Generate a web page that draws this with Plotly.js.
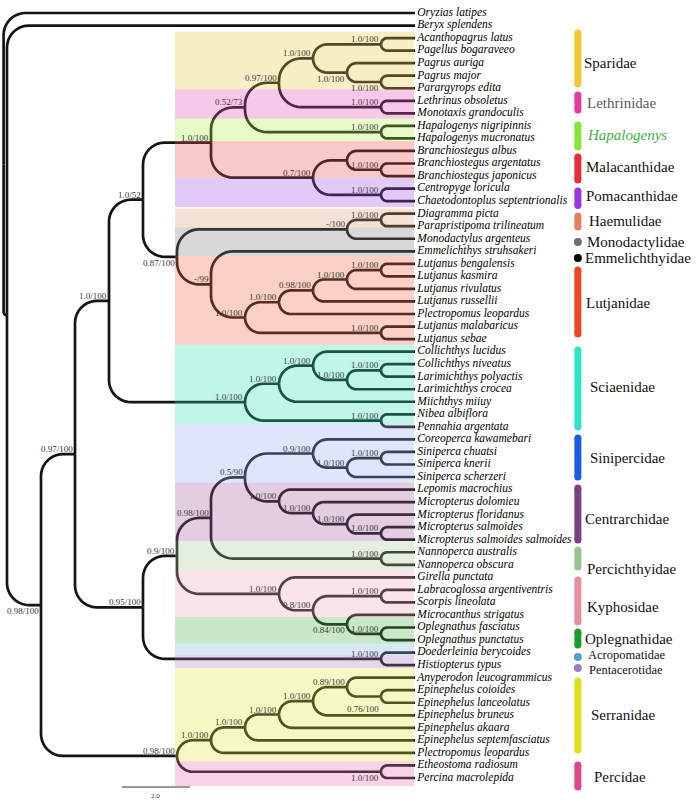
<!DOCTYPE html>
<html><head><meta charset="utf-8">
<script src="https://cdn.plot.ly/plotly-3.0.1.min.js"></script>
<style>html,body{margin:0;padding:0;background:#fff}</style>
</head><body><div id="chart" style="width:698px;height:804px"></div>
<script>
// ---------------- DATA ----------------
const tips = [
  "Oryzias latipes","Beryx splendens","Acanthopagrus latus","Pagellus bogaraveeo","Pagrus auriga",
  "Pagrus major","Parargyrops edita","Lethrinus obsoletus","Monotaxis grandoculis","Hapalogenys nigripinnis",
  "Hapalogenys mucronatus","Branchiostegus albus","Branchiostegus argentatus","Branchiostegus japonicus","Centropyge loricula",
  "Chaetodontoplus septentrionalis","Diagramma picta","Parapristipoma trilineatum","Monodactylus argenteus","Emmelichthys struhsakeri",
  "Lutjanus bengalensis","Lutjanus kasmira","Lutjanus rivulatus","Lutjanus russellii","Plectropomus leopardus",
  "Lutjanus malabaricus","Lutjanus sebae","Collichthys lucidus","Collichthys niveatus","Larimichthys polyactis",
  "Larimichthys crocea","Miichthys miiuy","Nibea albiflora","Pennahia argentata","Coreoperca kawamebari",
  "Siniperca chuatsi","Siniperca knerii","Siniperca scherzeri","Lepomis macrochius","Micropterus dolomieu",
  "Micropterus floridanus","Micropterus salmoides","Micropterus salmoides salmoides","Nannoperca australis","Nannoperca obscura",
  "Girella punctata","Labracoglossa argentiventris","Scorpis lineolata","Microcanthus strigatus","Oplegnathus fasciatus",
  "Oplegnathus punctatus","Doederleinia berycoides","Histiopterus typus","Anyperodon leucogrammicus","Epinephelus coioides",
  "Epinephelus lanceolatus","Epinephelus bruneus","Epinephelus akaara","Epinephelus septemfasciatus","Plectropomus leopardus",
  "Etheostoma radiosum","Percina macrolepida"
];
// clades in Newick form (tips referenced by their number in `tips`; labels = BI posterior / ML bootstrap)
const sparidae   = "((3,4)1.0/100,(5,(6,7)1.0/100)1.0/100)1.0/100";
const cladeUpper = "(((" + sparidae + ",(8,9)1.0/100)0.97/100,(10,11)1.0/100)0.52/73,((12,(13,14)1.0/100),(15,16)1.0/100)0.7/100)1.0/100";
const cladeLutj  = "(((17,18)1.0/100,19)-/100,(20,(((((21,22)1.0/100,23)1.0/100,24)0.98/100,25)1.0/100,(26,27)1.0/100)1.0/100)-/99)0.87/100";
const sciaenidae = "(((28,((29,30)1.0/100,31)1.0/100)1.0/100,32)1.0/100,(33,34)1.0/100)1.0/100";
const cladeLower = "((((35,((36,37)1.0/100,38)1.0/100)0.9/100,(39,(40,(41,(42,43)1.0/100)1.0/100)1.0/100)1.0/100)0.5/90,(44,45)1.0/100)0.98/100," +
                   "(46,((47,48)1.0/100,(49,(50,51)1.0/100)0.84/100)0.8/100)1.0/100)0.9/100";
const serranidae = "(((((54,(55,56)0.76/100)0.89/100,57)1.0/100,58)1.0/100,59)1.0/100,60)1.0/100";
const n108 = "((" + cladeUpper + "," + cladeLutj + ")1.0/52," + sciaenidae + ")1.0/100";
const n095 = "(" + cladeLower + ",(52,53)1.0/100)0.95/100";
const n73  = "(" + n108 + "," + n095 + ")0.97/100";
const nSP  = "(" + serranidae + ",(61,62)1.0/100)0.98/100";
const newick = "(1,(2,(" + n73 + "," + nSP + ")0.98/100))";
const tipDepth = 12;        // cladogram levels
const rootDepth = -0.1;
const scaleBarLength = 2.0;

const families   = ["Sparidae","Lethrinidae","Hapalogenys","Malacanthidae","Pomacanthidae","Haemulidae","Monodactylidae","Emmelichthyidae","Lutjanidae","Sciaenidae","Sinipercidae","Centrarchidae","Percichthyidae","Kyphosidae","Oplegnathidae","Acropomatidae","Pentacerotidae","Serranidae","Percidae"];
const famBarStart = [2.6,7.54,9.93,12.48,15.19,17.19,19.26,20.54,21.49,27.87,34.89,38.88,43.82,46.22,50.36,52.36,53.23,54.27,60.97];
const famBarEnd   = [6.66,8.74,11.69,14.32,16.34,18.07,19.26,20.54,26.6,34.01,38.0,43.03,45.18,49.57,51.4,52.36,53.23,59.77,62.72];
const famLabelY   = [4.99,8.18,10.73,13.28,15.59,17.59,19.26,20.54,24.13,30.82,36.49,41.35,45.34,48.37,50.92,52.2,53.4,56.98,61.93];

const bandNames = ["Sparidae","Lethrinidae","Hapalogenys","Malacanthidae","Pomacanthidae","Haemulidae","Monodactylidae","Lutjanidae","Sciaenidae","Sinipercidae","Centrarchidae","Percichthyidae","Kyphosidae","Oplegnathidae","Acropomatidae","Pentacerotidae","Serranidae","Percidae"];
const bandStart = [2.5,7.08,9.44,11.21,14.15,16.6,18.08,20.35,27.46,33.77,38.45,43.1,45.42,49.17,51.3,52.17,53.23,60.67];
const bandEnd   = [7.08,9.44,11.21,14.15,16.46,18.08,20.35,27.46,33.77,38.45,43.1,45.42,49.17,51.3,52.17,53.23,60.67,62.64];

// ---------------- STYLE ----------------
const famBarColors = ["#f2c92e","#e8389b","#84e43a","#e62b3a","#9a34e4","#df8162","#6e6e6e","#000000","#ee4524","#2ee6c6","#1b5be6","#7b3f84","#98c28e","#e6909f","#1f9b2c","#4fa0d8","#9a7dc8","#dbe21c","#e0458f"];
const famLabelColors = ["#111","#5a5a5a","#3db33d","#111","#111","#111","#111","#111","#111","#111","#111","#111","#111","#111","#111","#111","#111","#111","#111"];
const famLabelShift = [5,8,8,7,7,10,8,6,7,11,11,6,8,8,6,9,10,12,15];
const famLabelSize  = [15,15,15,15,15,15,15,15,15,15,15,15,15,15,15,12.5,12.5,15,15];
const bandPale = ["#f8eec5","#f8c8ea","#e6fbc8","#f9c9c9","#e3c9f8","#f6e1d7","#d8d8d8","#fbd0c5","#c1f6ea","#dde6fa","#e2cde1","#e5efdf","#fbe3ea","#c9e8c9","#d6e9f4","#e3d6ee","#f6f8c3","#f8d2e6"];
const BAND_ALPHA = 0.3;
const belowNodes = {"6-7":0,"5-7":0,"17-27":0,"49-51":0,"55-56":-7,"61-62":0,"3-62":0};
const X_PER_UNIT = 34, X_ORIGIN_PX = 7;
const W = 698, H = 804;
const xRange = [-X_ORIGIN_PX / X_PER_UNIT, (W - X_ORIGIN_PX) / X_PER_UNIT];
const yRange = [64.073, -0.0366];
const Y_PER_UNIT = H / (yRange[0] - yRange[1]);
const BAND_X0 = 4.94, BAND_X1 = 11.97, FAM_BAR_X = 16.79, SCALE_X0 = 3.38, SCALE_Y = 62.72;
const CORNER_R = 22;

// ---------------- PARSE & LAYOUT ----------------
function parseNewick(s) {
  let i = 0;
  function node() {
    if (s[i] === '(') {
      i++;
      const kids = [node()];
      while (s[i] === ',') { i++; kids.push(node()); }
      i++;
      let lab = '';
      while (i < s.length && !',);'.includes(s[i])) lab += s[i++];
      return {kids, label: lab};
    }
    let t = '';
    while (i < s.length && !',);'.includes(s[i])) t += s[i++];
    return {tip: parseInt(t, 10)};
  }
  return node();
}
const root = parseNewick(newick);
function lay(n) {
  if (n.tip) { n.y = n.tip; n.d = tipDepth; n.first = n.last = n.tip; return; }
  n.kids.forEach(lay);
  n.y = (n.kids[0].y + n.kids[n.kids.length - 1].y) / 2;
  n.d = Math.min(...n.kids.map(k => k.d)) - 1;
  n.first = n.kids[0].first; n.last = n.kids[n.kids.length - 1].last;
}
lay(root);
root.d = rootDepth;

const ex = [], ey = [], ann = [];
function edges(p) {
  if (p.tip) return;
  p.kids.forEach(c => {
    const dyPx = Math.abs(c.y - p.y) * Y_PER_UNIT;
    const dxPx = (c.d - p.d) * X_PER_UNIT;
    const r = Math.max(0, Math.min(CORNER_R, dyPx, dxPx));
    const s = c.y >= p.y ? 1 : -1;
    ex.push(p.d); ey.push(p.y);
    for (let k = 0; k <= 10; k++) {
      const th = k / 10 * Math.PI / 2;
      ex.push(p.d + r * (1 - Math.cos(th)) / X_PER_UNIT);
      ey.push(c.y - s * r * (1 - Math.sin(th)) / Y_PER_UNIT);
    }
    ex.push(c.d); ey.push(c.y);
    ex.push(null); ey.push(null);
    edges(c);
  });
  if (p.label) {
    const key = p.first + '-' + p.last;
    const below = key in belowNodes;
    ann.push({x: p.d, y: p.y, xref: 'x', yref: 'y', text: p.label, showarrow: false,
      xanchor: 'right', yanchor: below ? 'top' : 'bottom', xshift: -1,
      yshift: below ? belowNodes[key] : -1, borderpad: 0,
      font: {family: 'Liberation Serif', size: 9, color: '#3a3a3a'}});
  }
}
edges(root);

// ---------------- TRACES ----------------
const traces = [];
traces.push({type: 'scatter', mode: 'lines', x: ex, y: ey, hoverinfo: 'skip',
  line: {color: '#151515', width: 2.7, simplify: false}});
traces.push({type: 'scatter', mode: 'text', x: tips.map(() => tipDepth), y: tips.map((_, i) => i + 1),
  text: tips.map(t => '\u2009' + t), textposition: 'middle right', hoverinfo: 'skip',
  textfont: {family: 'Liberation Serif', size: 11.5, style: 'italic', color: '#000'}});
families.forEach((f, i) => {
  const single = famBarStart[i] === famBarEnd[i];
  traces.push({type: 'scatter', mode: single ? 'markers' : 'lines+markers', hoverinfo: 'skip',
    x: single ? [FAM_BAR_X] : [FAM_BAR_X, FAM_BAR_X],
    y: single ? [famBarStart[i]] : [famBarStart[i], famBarEnd[i]],
    line: {color: famBarColors[i], width: 7},
    marker: {color: famBarColors[i], size: single ? 8 : 7, line: {width: 0}}});
  ann.push({x: FAM_BAR_X, y: famLabelY[i], xref: 'x', yref: 'y', text: f, showarrow: false,
    xanchor: 'left', yanchor: 'middle', xshift: famLabelShift[i], borderpad: 0,
    font: {family: 'Liberation Serif', size: famLabelSize[i], color: famLabelColors[i],
           style: f === 'Hapalogenys' ? 'italic' : 'normal'}});
});
traces.push({type: 'scatter', mode: 'lines', x: [SCALE_X0, SCALE_X0 + scaleBarLength], y: [SCALE_Y, SCALE_Y],
  hoverinfo: 'skip', line: {color: '#333', width: 1}});
ann.push({x: SCALE_X0 + scaleBarLength / 2, y: SCALE_Y, xref: 'x', yref: 'y', text: scaleBarLength.toFixed(1),
  showarrow: false, yanchor: 'top', yshift: -3, font: {family: 'Liberation Serif', size: 7, color: '#333'}});

function rgba(hex, a) {
  const v = [1, 3, 5].map(k => parseInt(hex.substr(k, 2), 16));
  const c = v.map(p => Math.max(0, Math.min(255, Math.round((p - (1 - a) * 255) / a))));
  return `rgba(${c[0]},${c[1]},${c[2]},${a})`;
}
const shapes = bandNames.map((b, i) => ({type: 'rect', xref: 'x', yref: 'y', layer: 'above',
  x0: BAND_X0, x1: BAND_X1, y0: bandStart[i], y1: bandEnd[i],
  fillcolor: rgba(bandPale[i], BAND_ALPHA), line: {width: 0}}));

Plotly.newPlot('chart', traces, {
  width: W, height: H, margin: {l: 0, r: 0, t: 0, b: 0},
  paper_bgcolor: '#fff', plot_bgcolor: '#fff', showlegend: false, hovermode: false,
  xaxis: {range: xRange, visible: false, fixedrange: true},
  yaxis: {range: yRange, visible: false, fixedrange: true},
  shapes, annotations: ann
}, {staticPlot: true});
</script></body></html>
